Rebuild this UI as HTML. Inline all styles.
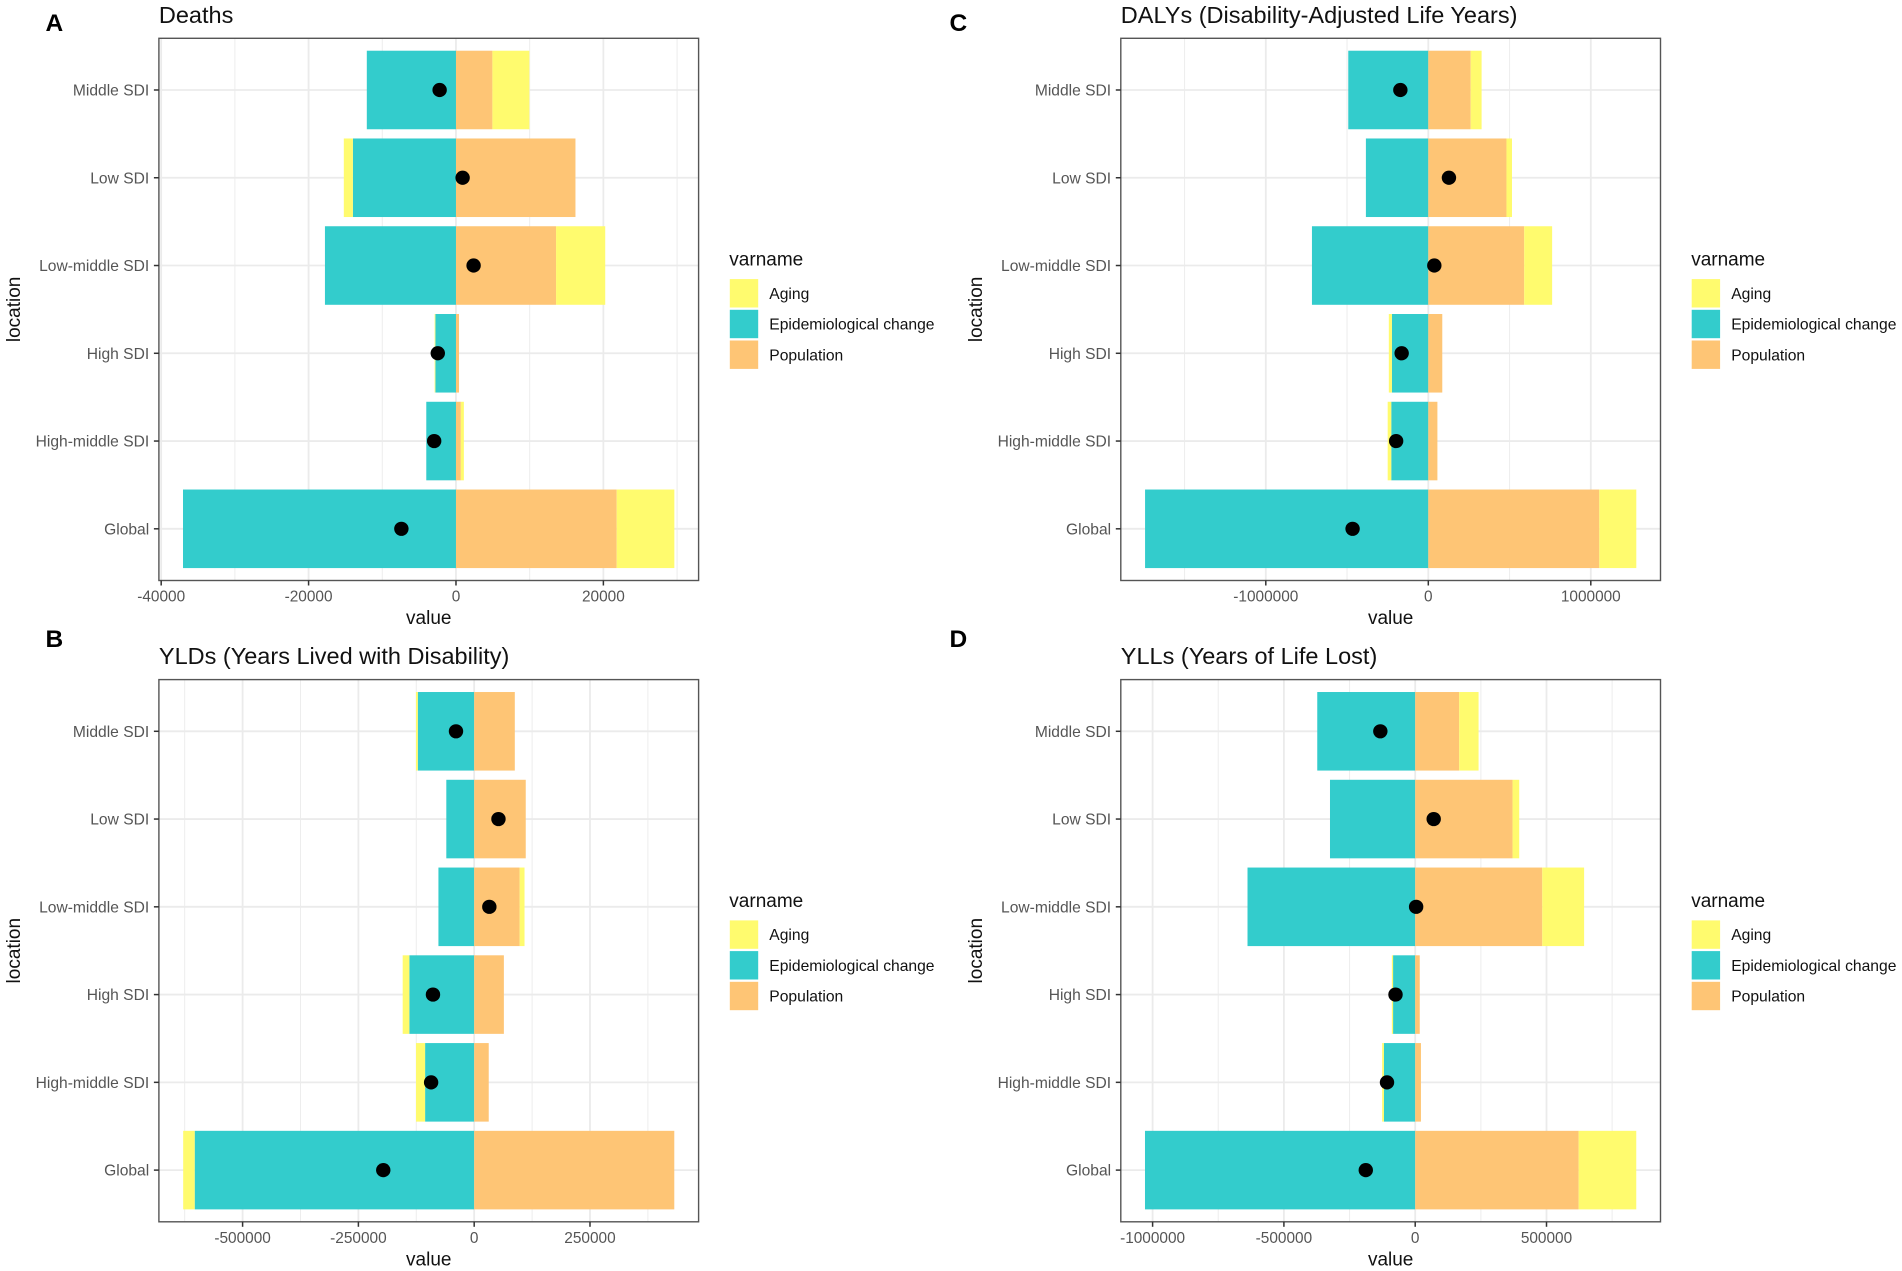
<!DOCTYPE html>
<html lang="en">
<head>
<meta charset="utf-8">
<title>Decomposition of burden by SDI</title>
<style>
html,body{margin:0;padding:0;background:#fff;width:1902px;height:1271px;overflow:hidden}
svg{display:block}
text{font-family:"Liberation Sans",Arial,sans-serif}
</style>
</head>
<body>
<svg id="figure" xmlns="http://www.w3.org/2000/svg" width="1902" height="1271" viewBox="0 0 1902 1271"></svg>
<script>
const categories = ["Middle SDI", "Low SDI", "Low-middle SDI", "High SDI", "High-middle SDI", "Global"];
const legendLabels = ["Aging", "Epidemiological change", "Population"];

const deathsAging = [5020, -1230, 6670, -100, 410, 7820];
const deathsEpi = [-12100, -13990, -17780, -2800, -4030, -37040];
const deathsPopulation = [4940, 16210, 13580, 410, 660, 21810];
const deathsNet = [-2220, 900, 2390, -2470, -2960, -7410];
const deathsTicks = [-40000, -20000, 0, 20000];
const deathsDomain = [-40310, 32920];

const yldsAging = [-4000, 0, 10500, -14400, -19600, -24900];
const yldsEpi = [-121700, -60200, -77200, -140000, -106000, -603400];
const yldsPopulation = [87700, 111300, 98200, 64100, 31400, 432000];
const yldsNet = [-39300, 52400, 32700, -89000, -93000, -196300];
const yldsTicks = [-500000, -250000, 0, 250000];
const yldsDomain = [-680700, 484500];

const dalysAging = [67000, 34000, 172000, -19000, -22000, 228000];
const dalysEpi = [-492500, -384000, -716000, -224000, -228000, -1743000];
const dalysPopulation = [261000, 481000, 590000, 86000, 56000, 1052000];
const dalysNet = [-172000, 127000, 37000, -164000, -198000, -466000];
const dalysTicks = [-1000000, 0, 1000000];
const dalysDomain = [-1892300, 1428900];

const yllsAging = [73900, 25400, 159400, -4600, -6900, 219400];
const yllsEpi = [-373000, -324500, -638600, -84300, -119000, -1029000];
const yllsPopulation = [167400, 370700, 483800, 17300, 21900, 622400];
const yllsNet = [-132800, 70400, 3500, -75000, -107400, -188200];
const yllsTicks = [-1000000, -500000, 0, 500000];
const yllsDomain = [-1121100, 934100];

const COLORS = { aging: "#fffb6e", epi: "#33cccc", pop: "#fec575" };
const NS = "http://www.w3.org/2000/svg";
const svg = document.getElementById("figure");

function make(parent, tag, attrs, text) {
  const el = document.createElementNS(NS, tag);
  for (const k in attrs) el.setAttribute(k, attrs[k]);
  if (text !== undefined) el.textContent = text;
  parent.appendChild(el);
  return el;
}

function drawPanel(cfg) {
  const L = cfg.left, T = cfg.top, W = 539.7, H = 542.2;
  const R = L + W, B = T + H;
  const g = make(svg, "g", {});
  
  

  const x = v => L + (v - cfg.domain[0]) / (cfg.domain[1] - cfg.domain[0]) * W;
  const pad = 0.589;
  const step = H / (categories.length - 1 + 2 * pad);
  const y = i => T + step * (pad + i);
  const barH = step * 0.895;

  const letter = make(g, "text", { x: cfg.letterX, y: cfg.letterY, "font-size": 24.5, "font-weight": "bold", fill: "#000" }, cfg.letter);
  
  

  const title = make(g, "text", { x: L, y: T - 15.5, "font-size": 23.5, fill: "#111" }, cfg.title);
  
  

  const bg = make(g, "rect", { x: L, y: T, width: W, height: H, fill: "#fff" });
  
  

  const ticks = cfg.ticks;
  const spacing = ticks[1] - ticks[0];
  for (let m = ticks[0] - spacing / 2; m < cfg.domain[1]; m += spacing) {
    if (m <= cfg.domain[0]) continue;
    const minor = make(g, "line", { x1: x(m), x2: x(m), y1: T, y2: B, stroke: "#ededed", "stroke-width": 1 });
    
    
  }
  ticks.forEach(t => {
    const grid = make(g, "line", { x1: x(t), x2: x(t), y1: T, y2: B, stroke: "#ebebeb", "stroke-width": 1.8 });
    
    
  });
  categories.forEach((c, i) => {
    const grid = make(g, "line", { x1: L, x2: R, y1: y(i), y2: y(i), stroke: "#ebebeb", "stroke-width": 1.8 });
    
    
  });

  categories.forEach((c, i) => {
    const stack = [
      { v: cfg.epi[i], color: COLORS.epi, name: 'bar-epidemiological-change' },
      { v: cfg.population[i], color: COLORS.pop, name: 'bar-population' },
      { v: cfg.aging[i], color: COLORS.aging, name: 'bar-aging' }
    ];
    let pos = 0, neg = 0;
    stack.forEach(s => {
      let a, b;
      if (s.v >= 0) { a = pos; b = pos + s.v; pos = b; }
      else { a = neg + s.v; b = neg; neg = a; }
      const bar = make(g, "rect", { x: x(a), y: y(i) - barH / 2, width: Math.max(0, x(b) - x(a)), height: barH, fill: s.color });
      
      
    });
  });

  categories.forEach((c, i) => {
    const dot = make(g, "ellipse", { cx: x(cfg.net[i]), cy: y(i), rx: 7.2, ry: 7.1, fill: "#000" });
    
    
  });

  const border = make(g, "rect", { x: L, y: T, width: W, height: H, fill: "none", stroke: "#555", "stroke-width": 1.4 });
  
  

  categories.forEach((c, i) => {
    const tick = make(g, "line", { x1: L - 5, x2: L, y1: y(i), y2: y(i), stroke: "#333", "stroke-width": 1.5 });
    
    
    const label = make(g, "text", { x: L - 9.7, y: y(i) + 5.6, "font-size": 15.6, "text-anchor": "end", fill: "#555" }, c);
    
    
  });

  ticks.forEach(t => {
    const tick = make(g, "line", { x1: x(t), x2: x(t), y1: B, y2: B + 5, stroke: "#333", "stroke-width": 1.5 });
    
    
    const label = make(g, "text", { x: x(t), y: B + 21, "font-size": 15.4, "text-anchor": "middle", fill: "#555" }, String(t));
    
    
  });

  const xTitle = make(g, "text", { x: L + W / 2, y: B + 43.5, "font-size": 19, "text-anchor": "middle", fill: "#111" }, "value");
  
  

  const yTitleX = L - 139, yTitleY = T + H / 2;
  const yTitle = make(g, "text", { x: yTitleX, y: yTitleY, "font-size": 19, "text-anchor": "middle", fill: "#111", transform: "rotate(-90 " + yTitleX + " " + yTitleY + ")" }, "location");
  
  

  const lx = L + 570.4, ly = T + 220.3;
  const legTitle = make(g, "text", { x: lx, y: ly + 7, "font-size": 19, fill: "#111" }, "varname");
  
  
  const keyColors = [COLORS.aging, COLORS.epi, COLORS.pop];
  legendLabels.forEach((lab, i) => {
    const top = ly + 20.5 + i * 30.7;
    const key = make(g, "rect", { x: lx + 0.5, y: top, width: 28.4, height: 28.4, fill: keyColors[i] });
    
    
    const text = make(g, "text", { x: lx + 40, y: top + 19.8, "font-size": 15.65, fill: "#111" }, lab);
    
    
  });
}

drawPanel({ key: "deaths", letter: "A", letterX: 45.5, letterY: 31, left: 158.9, top: 38.3, title: "Deaths",
  aging: deathsAging, epi: deathsEpi, population: deathsPopulation, net: deathsNet, ticks: deathsTicks, domain: deathsDomain });
drawPanel({ key: "ylds", letter: "B", letterX: 45.5, letterY: 647, left: 158.9, top: 679.6, title: "YLDs (Years Lived with Disability)",
  aging: yldsAging, epi: yldsEpi, population: yldsPopulation, net: yldsNet, ticks: yldsTicks, domain: yldsDomain });
drawPanel({ key: "dalys", letter: "C", letterX: 949.5, letterY: 31, left: 1120.8, top: 38.3, title: "DALYs (Disability-Adjusted Life Years)",
  aging: dalysAging, epi: dalysEpi, population: dalysPopulation, net: dalysNet, ticks: dalysTicks, domain: dalysDomain });
drawPanel({ key: "ylls", letter: "D", letterX: 949.5, letterY: 647, left: 1120.8, top: 679.6, title: "YLLs (Years of Life Lost)",
  aging: yllsAging, epi: yllsEpi, population: yllsPopulation, net: yllsNet, ticks: yllsTicks, domain: yllsDomain });
</script>
</body>
</html>
